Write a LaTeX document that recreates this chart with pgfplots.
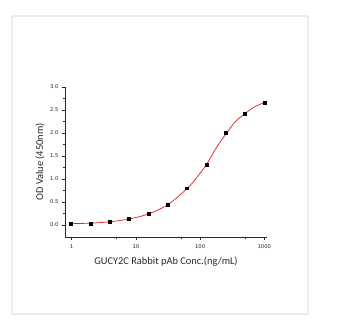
\documentclass[border=0pt]{standalone}
\usepackage{fontspec}
\setmainfont{Carlito}
\newfontfamily\tickfont{DejaVu Sans}
\usepackage{pgfplots}
\pgfplotsset{compat=1.18}
\definecolor{boxgray}{RGB}{235,235,235}
\definecolor{fitred}{RGB}{225,30,35}
\definecolor{axgray}{RGB}{40,40,40}
\begin{document}
\begin{tikzpicture}[x=1pt,y=1pt]
\useasboundingbox (0,0) rectangle (342,328);
\fill[white] (0,0) rectangle (342,328);
\draw[boxgray, line width=2pt] (12,13.5) rectangle (308,311.5);
\begin{axis}[
  at={(65pt,91pt)}, anchor=south west,
  width=202pt, height=150pt, scale only axis,
  xmode=log, xmin=0.787, xmax=1102, ymin=-0.26, ymax=3.0,
  axis x line*=bottom, axis y line*=left,
  axis line style={line width=0.6pt, color=axgray, -},
  xtick={1,10,100,1000}, xticklabels={1,10,100,1000},
  minor xtick={5,50,500},
  ytick={0,0.5,1.0,1.5,2.0,2.5,3.0},
  minor ytick={0.25,0.75,1.25,1.75,2.25,2.75},
  /pgf/number format/assume math mode=true,
  yticklabel style={/pgf/number format/.cd, fixed, fixed zerofill, precision=1},
  tick align=outside, major tick length=3pt, minor tick length=1.8pt,
  every tick/.style={axgray, line width=0.5pt},
  ticklabel style={font=\tickfont\fontsize{5.3}{6}\selectfont, text=axgray},
  xticklabel style={yshift=-1pt},
  xlabel={GUCY2C Rabbit pAb Conc.(ng/mL)}, ylabel={OD Value (450nm)},
  label style={font=\fontsize{10.4}{12}\selectfont, text=axgray},
  xlabel style={at={(axis description cs:0.5,-0.167)}, anchor=center},
  ylabel style={at={(axis description cs:-0.124,0.5)}, anchor=center},
  clip=false,
]
\addplot[fitred, line width=0.7pt, smooth, tension=0.5] coordinates {
(0.977,0.03) (1.953,0.04) (3.906,0.07) (7.8125,0.13) (15.625,0.24) (31.25,0.44)
(62.5,0.79) (88.4,1.03) (125,1.31) (176.8,1.67) (250,1.97) (353.6,2.245) (500,2.42) (707,2.57) (1000,2.66)
};
\addplot[only marks, mark=square*, mark size=1.45pt, black] coordinates {
(0.977,0.02) (1.953,0.035) (3.906,0.07) (7.8125,0.13) (15.625,0.25) (31.25,0.45)
(62.5,0.80) (125,1.31) (250,2.00) (500,2.41) (1000,2.66)
};
\end{axis}
\end{tikzpicture}
\end{document}
